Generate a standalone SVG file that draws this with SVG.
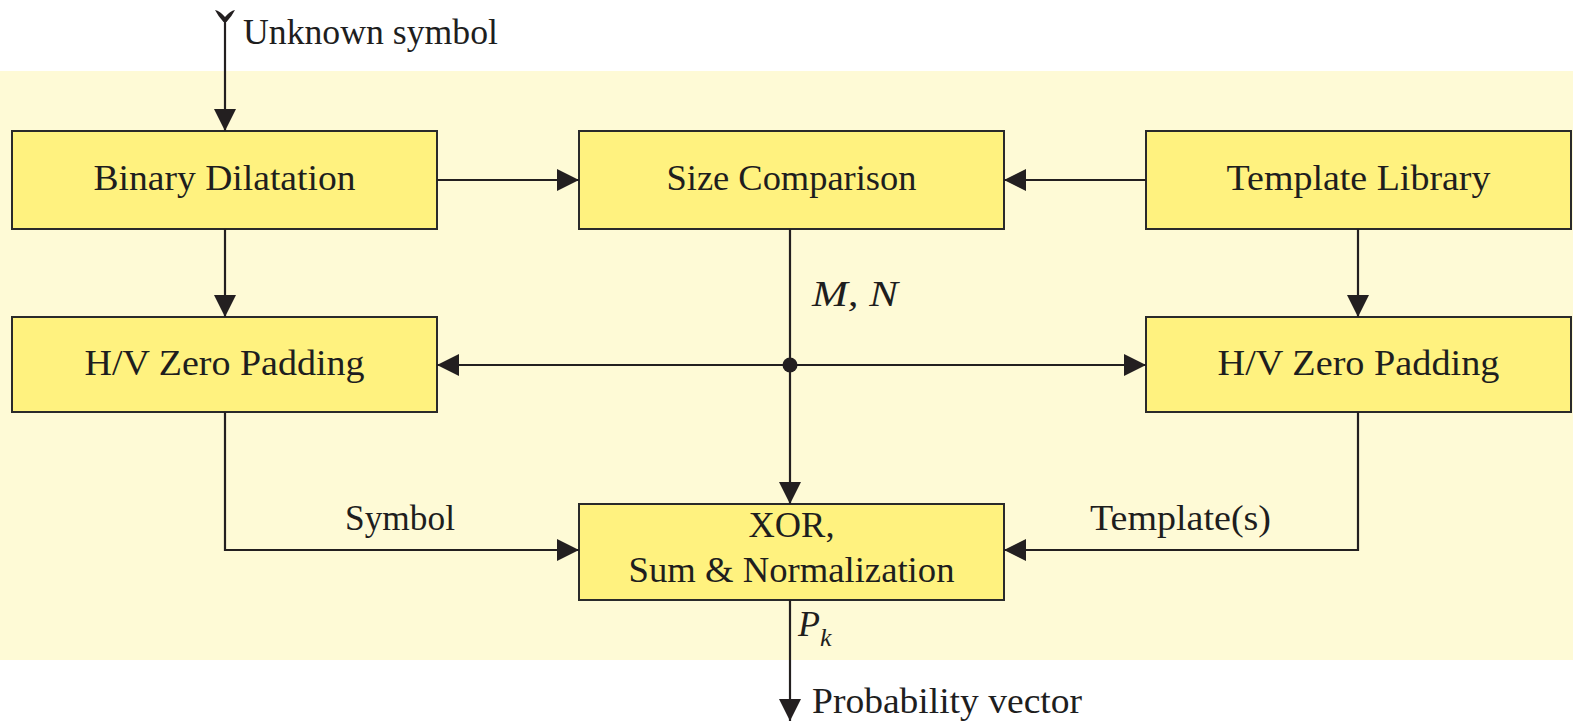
<svg xmlns="http://www.w3.org/2000/svg" width="1573" height="722" viewBox="0 0 1573 722">
  <style>
    .box { fill: #fff27f; stroke: #2a2a2a; stroke-width: 2; }
    .lbl { font-family: "Liberation Serif", "DejaVu Serif", serif; font-size: 36px; fill: #1e1e1e; }
    .mid { text-anchor: middle; }
    .it { font-style: italic; }
    .wire { fill: none; stroke: #231f20; stroke-width: 2.2; }
  </style>
  <defs>
    <marker id="arr" viewBox="0 0 22 22" refX="22" refY="11" markerWidth="22" markerHeight="22" markerUnits="userSpaceOnUse" orient="auto">
      <path d="M0,0 L22,11 L0,22 Z" fill="#231f20"/>
    </marker>
  </defs>

  <rect x="0" y="0" width="1573" height="722" fill="#ffffff"/>
  <!-- shaded processing area -->
  <rect x="0" y="71" width="1573" height="589" fill="#fefad6"/>

  <g id="binary-dilatation">
    <rect class="box" x="12" y="131" width="425" height="98"/>
    <text class="lbl mid" x="224.5" y="190" textLength="262" lengthAdjust="spacingAndGlyphs">Binary Dilatation</text>
  </g>
  <g id="size-comparison">
    <rect class="box" x="579" y="131" width="425" height="98"/>
    <text class="lbl mid" x="791.5" y="190" textLength="250" lengthAdjust="spacingAndGlyphs">Size Comparison</text>
  </g>
  <g id="template-library">
    <rect class="box" x="1146" y="131" width="425" height="98"/>
    <text class="lbl mid" x="1358.5" y="190" textLength="264" lengthAdjust="spacingAndGlyphs">Template Library</text>
  </g>
  <g id="padding-left">
    <rect class="box" x="12" y="317" width="425" height="95"/>
    <text class="lbl mid" x="224.5" y="375" textLength="280" lengthAdjust="spacingAndGlyphs">H/V Zero Padding</text>
  </g>
  <g id="padding-right">
    <rect class="box" x="1146" y="317" width="425" height="95"/>
    <text class="lbl mid" x="1358.5" y="375" textLength="282" lengthAdjust="spacingAndGlyphs">H/V Zero Padding</text>
  </g>
  <g id="xor-sum">
    <rect class="box" x="579" y="504" width="425" height="96"/>
    <text class="lbl mid" x="791.5" y="537" textLength="86" lengthAdjust="spacingAndGlyphs">XOR,</text>
    <text class="lbl mid" x="791.5" y="582" textLength="326" lengthAdjust="spacingAndGlyphs">Sum &amp; Normalization</text>
  </g>

  <g id="connectors">
    <!-- input with tail mark -->
    <path d="M215,10 Q220,11 225,17 Q230,11 235,10 Q232,16 226.5,22 L223.5,22 Q218,16 215,10 Z" fill="#231f20"/>
    <line class="wire" x1="225" y1="18" x2="225" y2="131" marker-end="url(#arr)"/>
    <!-- top row -->
    <line class="wire" x1="437" y1="180" x2="579" y2="180" marker-end="url(#arr)"/>
    <line class="wire" x1="1146" y1="180" x2="1004" y2="180" marker-end="url(#arr)"/>
    <line class="wire" x1="225" y1="229" x2="225" y2="317" marker-end="url(#arr)"/>
    <line class="wire" x1="1358" y1="229" x2="1358" y2="317" marker-end="url(#arr)"/>
    <!-- M, N distribution -->
    <line class="wire" x1="790" y1="229" x2="790" y2="504" marker-end="url(#arr)"/>
    <line class="wire" x1="790" y1="365" x2="437" y2="365" marker-end="url(#arr)"/>
    <line class="wire" x1="790" y1="365" x2="1146" y2="365" marker-end="url(#arr)"/>
    <circle cx="790" cy="365" r="7.5" fill="#231f20"/>
    <!-- padded inputs to comparator -->
    <polyline class="wire" points="225,412 225,550 579,550" marker-end="url(#arr)"/>
    <polyline class="wire" points="1358,412 1358,550 1004,550" marker-end="url(#arr)"/>
    <!-- output -->
    <line class="wire" x1="790" y1="600" x2="790" y2="721" marker-end="url(#arr)"/>

    <text class="lbl" x="243" y="44" textLength="255" lengthAdjust="spacingAndGlyphs">Unknown symbol</text>
    <text class="lbl it" x="812" y="306" textLength="86" lengthAdjust="spacingAndGlyphs">M, N</text>
    <text class="lbl" x="345" y="530" textLength="110" lengthAdjust="spacingAndGlyphs">Symbol</text>
    <text class="lbl" x="1090" y="530" textLength="181" lengthAdjust="spacingAndGlyphs">Template(s)</text>
    <text class="lbl it" x="798" y="636">P</text>
    <text class="lbl it" x="820" y="646" style="font-size:26px">k</text>
    <text class="lbl" x="812" y="713" textLength="270" lengthAdjust="spacingAndGlyphs">Probability vector</text>
  </g>
</svg>
